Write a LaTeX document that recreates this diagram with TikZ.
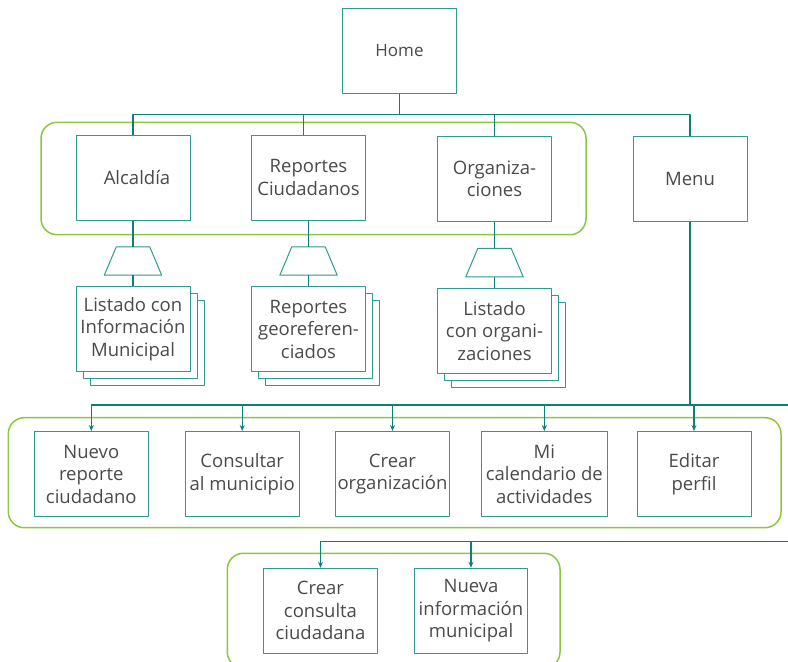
\documentclass[tikz,border=0pt]{standalone}
\usepackage{fontspec}
\setmainfont{Open Sans}
\usetikzlibrary{shadows,arrows.meta}
\definecolor{linec}{HTML}{0E7F78}
\definecolor{boxc}{HTML}{2E9A90}
\definecolor{grpc}{HTML}{8DC63F}
\definecolor{txtc}{HTML}{4A4A4A}
\begin{document}
\begin{tikzpicture}[x=1pt, y=-1pt, line join=round, text=txtc,
		font=\fontsize{18.5}{22.5}\selectfont,
		box/.style={draw=boxc, fill=white, line width=1pt, minimum width=114pt, minimum height=85pt, inner sep=1pt, align=center},
		docs/.style={box, double copy shadow={shadow xshift=7pt, shadow yshift=-7pt, draw=boxc, fill=white, line width=1pt}},
		filtro/.style={minimum width=57pt, minimum height=28pt, inner sep=0pt},
		grupo/.style={draw=grpc, line width=1.5pt, rounded corners=16pt},
		link/.style={draw=linec, line width=1.1pt},
		flecha/.style={link, -{Stealth[length=6pt,width=5pt]}}]
	\useasboundingbox (0,0) rectangle (788,662);
	% grupos
	\draw[grupo] (41,122.3) rectangle (586,234.7);
	\draw[grupo] (8.3,417.7) rectangle (781,527.7);
	\draw[grupo] (227.3,553.3) rectangle (560,668);
	% nivel superior
	\node[box, font=\fontsize{17}{21}\selectfont] (home) at (399.5,50.8) {Home};
	\node[box] (alc) at (133,177.5) {\hspace{8pt}Alcaldía};
	\node[box] (rep) at (308.5,177.5) {Reportes\\Ciudadanos};
	\node[box] (org) at (494.5,179) {Organiza-\\ciones};
	\node[box] (menu) at (690,179) {Menu};
	% filtros y listados
	\foreach \n/\x/\y in {f1/133/261, f2/308.5/261, f3/494.5/262.6}
	{\node[filtro] (\n) at (\x,\y) {};
		\draw[draw=boxc, line width=1pt] ([xshift=12pt]\n.north west) -- ([xshift=-12pt]\n.north east)
			-- (\n.south east) -- (\n.south west) -- cycle;
	}
	\node[docs] (lis1) at (133,329) {Listado con\\Información\\Municipal};
	\node[docs] (lis2) at (308.5,329) {Reportes\\georeferen-\\ciados};
	\node[docs] (lis3) at (494.5,331) {Listado\\con organi-\\zaciones};
	% opciones del menu
	\node[box] (nuevo) at (91.3,474) {Nuevo\\reporte\\ciudadano};
	\node[box] (consulta) at (242.2,474) {Consultar\\al municipio};
	\node[box] (crearorg) at (392.5,474) {Crear\\organización};
	\node[box, minimum width=126pt] (agenda) at (544.3,474) {Mi\\calendario de\\actividades};
	\node[box] (perfil) at (694,474) {Editar\\perfil};
	\node[box] (crearcons) at (320.5,610.8) {Crear\\consulta\\ciudadana};
	\node[box, minimum width=113pt] (nueva) at (471,610.8) {Nueva\\información\\municipal};
	% conectores
	\coordinate (bus1) at (399.5,114.5);
	\coordinate (fin2) at (788,405);
	\coordinate (fin3) at (788,541.7);
	\draw[link] (home.south) -- (bus1);
	\draw[link] (alc.north) |- (bus1) -| (menu.north);
	\draw[link] ([xshift=-5pt]rep.north) |- (bus1);
	\draw[link] (org.north) |- (bus1);
	\foreach \a/\b/\c in {alc/f1/lis1, rep/f2/lis2, org/f3/lis3}
		\draw[link] (\a.south) -- (\b.north) (\b.south) -- (\c.north);
	\draw[link] (menu.south) -- (menu.south |- fin2);
	\draw[flecha] (fin2) -| (nuevo.north);
	\foreach \n in {consulta, crearorg, agenda, perfil}
		\draw[flecha] (\n.north |- fin2) -- (\n.north);
	\draw[flecha] (fin3) -| (crearcons.north);
	\draw[flecha] (nueva.north |- fin3) -- (nueva.north);
\end{tikzpicture}
\end{document}
